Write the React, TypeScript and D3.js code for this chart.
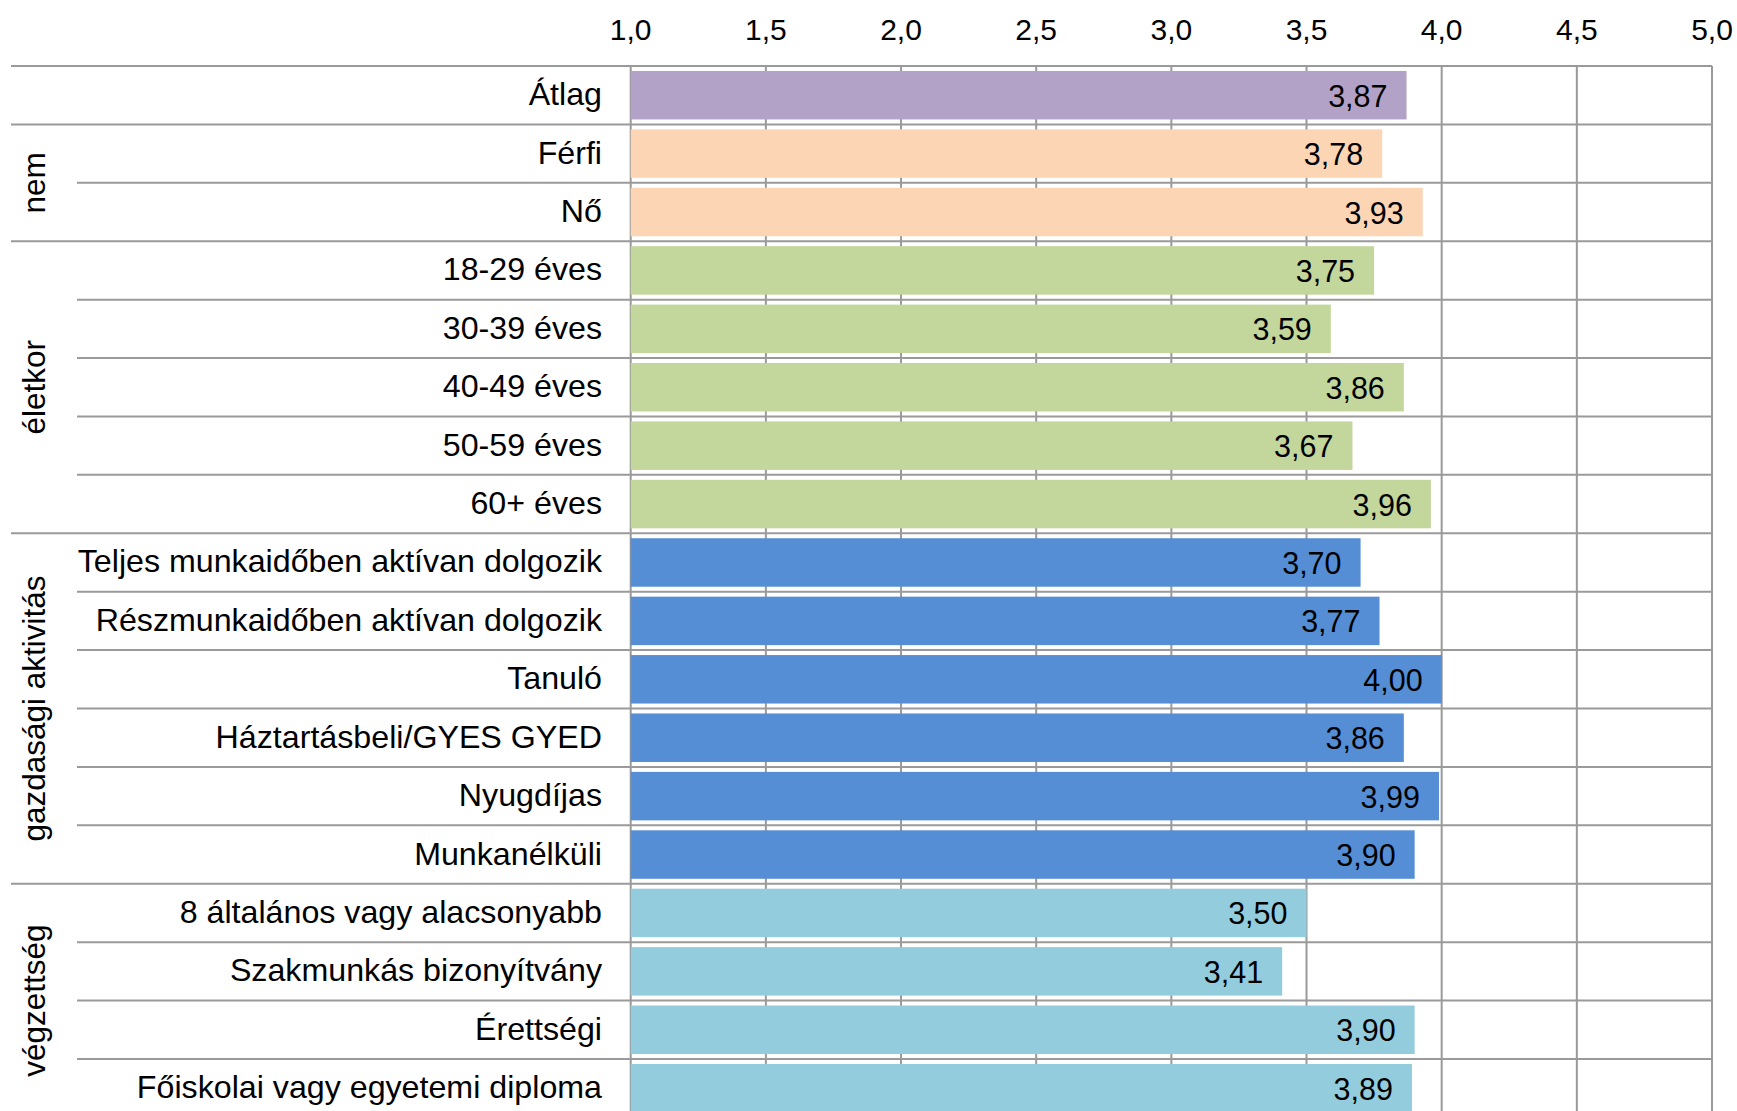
import React from "react";
import * as d3 from "d3";

const categories = [
  "Átlag",
  "Férfi",
  "Nő",
  "18-29 éves",
  "30-39 éves",
  "40-49 éves",
  "50-59 éves",
  "60+ éves",
  "Teljes munkaidőben aktívan dolgozik",
  "Részmunkaidőben aktívan dolgozik",
  "Tanuló",
  "Háztartásbeli/GYES GYED",
  "Nyugdíjas",
  "Munkanélküli",
  "8 általános vagy alacsonyabb",
  "Szakmunkás bizonyítvány",
  "Érettségi",
  "Főiskolai vagy egyetemi diploma",
];

const values = [
  3.87, 3.78, 3.93, 3.75, 3.59, 3.86, 3.67, 3.96, 3.7, 3.77, 4.0, 3.86, 3.99,
  3.9, 3.5, 3.41, 3.9, 3.89,
];

// group key for each category
const categoryGroups = [
  "all", "nem", "nem",
  "életkor", "életkor", "életkor", "életkor", "életkor",
  "gazdasági aktivitás", "gazdasági aktivitás", "gazdasági aktivitás",
  "gazdasági aktivitás", "gazdasági aktivitás", "gazdasági aktivitás",
  "végzettség", "végzettség", "végzettség", "végzettség",
];

const groupNames = ["all", "nem", "életkor", "gazdasági aktivitás", "végzettség"];
const groupLabels = ["", "nem", "életkor", "gazdasági aktivitás", "végzettség"];
const groupColors = ["#b3a2c7", "#fcd5b5", "#c3d69b", "#558ed5", "#93cddd"];

const tickValues = [1.0, 1.5, 2.0, 2.5, 3.0, 3.5, 4.0, 4.5, 5.0];

const W = 1737;
const H = 1111;
const FONT = "'Liberation Sans', Arial, Helvetica, sans-serif";
const FS_TICK = 30;
const FS_VAL = 30.5;
const FS_CAT = 32.2;
const FS_GROUP = 31.5;

export default function App() {
  const left = 630.7;
  const right = 1712;
  const top = 66;
  const step = 58.41;
  const n = categories.length;
  const bottom = top + n * step;

  const x = d3.scaleLinear().domain([1, 5]).range([left, right]);
  const y = d3
    .scaleBand<string>()
    .domain(categories)
    .range([top, bottom])
    .paddingInner(0.17)
    .paddingOuter(0.085);
  const rowY = d3.scaleLinear().domain([0, n]).range([top, bottom]);
  const color = d3.scaleOrdinal<string, string>().domain(groupNames).range(groupColors);

  const fmt = (v: number) => d3.format(".2f")(v).replace(".", ",");
  const fmtTick = (v: number) => d3.format(".1f")(v).replace(".", ",");

  const boundaries = d3.range(0, n + 1).map((i) => {
    const isGroup =
      i === 0 || i === n || categoryGroups[i] !== categoryGroups[i - 1];
    return { i, isGroup };
  });

  const groupSpans = groupNames
    .map((g, gi) => {
      const idx = categoryGroups
        .map((c, i) => (c === g ? i : -1))
        .filter((i) => i >= 0);
      return {
        label: groupLabels[gi],
        start: d3.min(idx) as number,
        end: (d3.max(idx) as number) + 1,
      };
    })
    .filter((s) => s.label);

  const gridColor = "#9a9a9a";

  return (
    <svg
      width={W}
      height={H}
      style={{ position: "absolute", left: 0, top: 0, background: "#fff" }}
      fontFamily={FONT}
    >
      <rect x={0} y={0} width={W} height={H} fill="#fff" />
      {boundaries.map((b) => (
        <line
          key={"h" + b.i}
          x1={b.isGroup ? 11 : 77}
          x2={right}
          y1={rowY(b.i)}
          y2={rowY(b.i)}
          stroke={gridColor}
          strokeWidth={2}
        />
      ))}
      {tickValues.map((t) => (
        <line
          key={"v" + t}
          x1={x(t)}
          x2={x(t)}
          y1={top}
          y2={H + 20}
          stroke={gridColor}
          strokeWidth={2}
        />
      ))}
      {tickValues.map((t) => (
        <text
          key={"t" + t}
          x={x(t)}
          y={39.5}
          textAnchor="middle"
          fontSize={FS_TICK}
          fill="#000"
        >
          {fmtTick(t)}
        </text>
      ))}
      {categories.map((c, i) => (
        <rect
          key={"b" + c}
          x={x(1)}
          y={y(c)}
          width={x(values[i]) - x(1)}
          height={y.bandwidth()}
          fill={color(categoryGroups[i])}
        />
      ))}
      {categories.map((c, i) => (
        <text
          key={"l" + c}
          x={x(values[i]) - 19}
          y={rowY(i + 0.5) + 11.5}
          textAnchor="end"
          fontSize={FS_VAL}
          fill="#000"
        >
          {fmt(values[i])}
        </text>
      ))}
      {categories.map((c, i) => (
        <text
          key={"c" + c}
          x={602}
          y={rowY(i + 0.5) + 10}
          textAnchor="end"
          fontSize={FS_CAT}
          fill="#000"
        >
          {c}
        </text>
      ))}
      {groupSpans.map((s) => {
        const cy = (rowY(s.start) + rowY(s.end)) / 2;
        return (
          <text
            key={"g" + s.label}
            transform={`translate(44.5,${cy}) rotate(-90)`}
            textAnchor="middle"
            fontSize={FS_GROUP}
            fill="#000"
          >
            {s.label}
          </text>
        );
      })}
    </svg>
  );
}
